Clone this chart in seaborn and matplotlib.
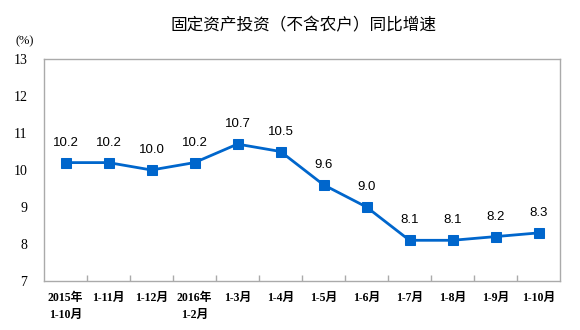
import matplotlib
matplotlib.use("Agg")
import matplotlib.pyplot as plt
import seaborn as sns
import pandas as pd
from matplotlib.ticker import FixedLocator

categories = ["2015年\n1-10月", "1-11月", "1-12月", "2016年\n1-2月", "1-3月", "1-4月",
              "1-5月", "1-6月", "1-7月", "1-8月", "1-9月", "1-10月"]
values = [10.2, 10.2, 10.0, 10.2, 10.7, 10.5, 9.6, 9.0, 8.1, 8.1, 8.2, 8.3]
y_ticks = [7, 8, 9, 10, 11, 12, 13]

sns.set_theme(style="white")
plt.rcParams['font.family'] = ['Liberation Serif', 'Noto Sans CJK SC', 'DejaVu Sans']
plt.rcParams['text.color'] = 'black'
plt.rcParams['xtick.color'] = 'black'
plt.rcParams['ytick.color'] = 'black'

df = pd.DataFrame({"idx": list(range(len(categories))), "val": values})

fig = plt.figure(figsize=(5.8, 3.3), dpi=100)
ax = fig.add_axes([44/580, 1-281/330, (560-44)/580, (281-59)/330])

sns.lineplot(data=df, x="idx", y="val", ax=ax, color="#0066CC", linewidth=2,
             marker="s", markersize=6.5, markeredgecolor="#0066CC")

for i, v in enumerate(values):
    ax.annotate(f"{v:.1f}", (i, v), xytext=(0, 10), textcoords="offset points",
                ha="center", va="bottom", fontsize=9.5, family=["Liberation Sans", "DejaVu Sans"],
                color="black")

ax.set_xlim(-0.5, len(categories) - 0.5)
ax.set_ylim(7, 13)
ax.set_yticks(y_ticks)
ax.set_yticklabels([str(t) for t in y_ticks], fontsize=10)
ax.set_xticks(range(len(categories)))
ax.set_xticklabels(categories, fontsize=8.5, fontweight="bold", linespacing=1.5, va="top")
for lbl in ax.get_xticklabels():
    lbl.set_horizontalalignment("center")
ax.xaxis.set_minor_locator(FixedLocator([i + 0.5 for i in range(len(categories) - 1)]))
ax.tick_params(axis="x", which="major", length=0, pad=8)
ax.tick_params(axis="x", which="minor", length=4, direction="in", color="#AAAAAA", width=1, bottom=True)
ax.tick_params(axis="y", length=0, pad=12)
ax.set_xlabel("")
ax.set_ylabel("")
for s in ax.spines.values():
    s.set_color("#AAAAAA")
    s.set_linewidth(1)
ax.grid(False)

fig.text(303/580, 1-26/330, "固定资产投资（不含农户）同比增速", ha="center", va="center",
         fontsize=12, color="black", family=["Noto Sans CJK SC", "DejaVu Sans"])
fig.text(25/580, 1-41/330, "(%)", ha="center", va="center", fontsize=9, color="black")

fig.savefig("out.png", dpi=100)
